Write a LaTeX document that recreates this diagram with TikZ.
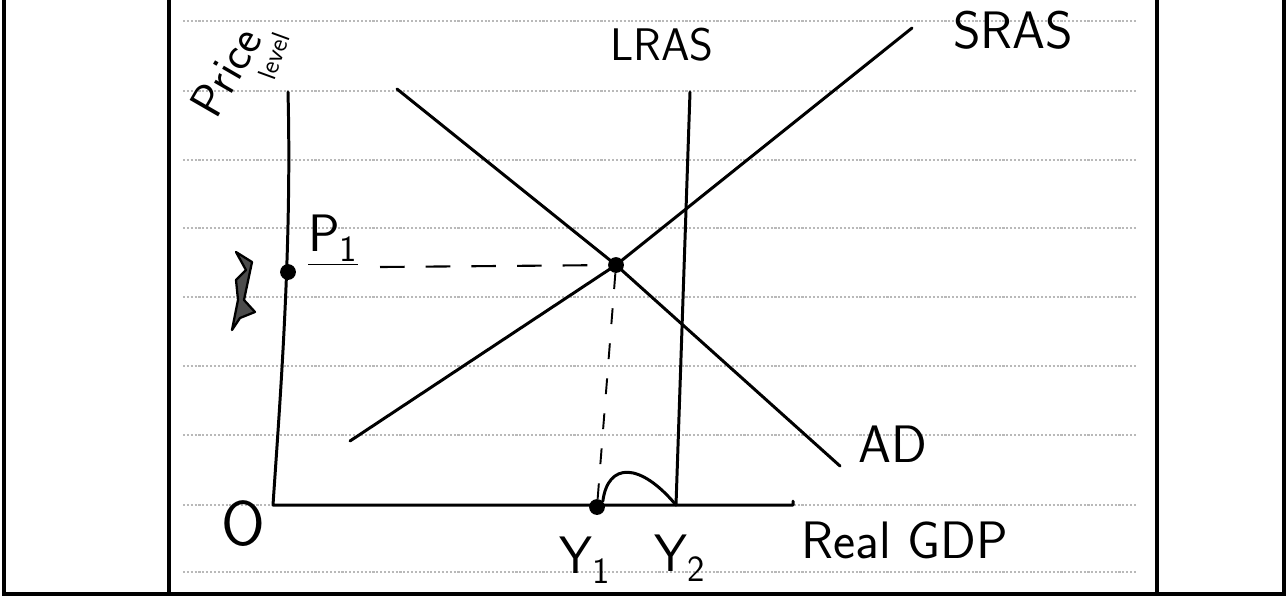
\documentclass[tikz,border=0pt]{standalone}
\usepackage{tikz}
\usetikzlibrary{positioning}

\begin{document}
\begin{tikzpicture}[
  x=0.02cm, y=-0.02cm,
  font=\sffamily\fontsize{30}{30}\selectfont,
  curve/.style={line width=1.7pt, line cap=round, line join=round},
  guide/.style={line width=1.2pt, dash pattern=on 14pt off 12pt},
  vguide/.style={line width=1.1pt, dash pattern=on 9pt off 11pt},
  dot/.style={circle, fill=black, inner sep=0pt, minimum size=9pt},
  rule/.style={gray!55, line width=1.2pt, densely dotted},
  frame/.style={line width=1.8pt},
  lbl/.style={inner sep=1pt},
]
  \useasboundingbox (0,0) rectangle (1287,596);

  % ruled paper and table frame
  \foreach \y in {21,91,160,228,297,366,435,505,572} {
    \draw[rule] (183,\y) -- (1137,\y);
  }
  \draw[frame] (4,0) -- (4,594) -- (1284,594) -- (1284,0);
  \draw[frame] (169,0) -- (169,594);
  \draw[frame] (1157,0) -- (1157,594);

  % axes
  \coordinate (ytop) at (288,92);
  \coordinate (origin) at (273,505);
  \coordinate (xend) at (793,505);
  \draw[curve] (ytop) .. controls (292,250) and (280,400) .. (origin)
    -- (xend) -- ++(0,-4);

  % curves
  \coordinate (eq) at (616,265);
  \coordinate (sraslo) at (350,441);
  \coordinate (srashi) at (912,28);
  \coordinate (adhi) at (397,89);
  \coordinate (adlo) at (840,466);
  \coordinate (lrastop) at (690,92);
  \coordinate (y2) at (676,505);
  \draw[curve] (sraslo) -- (eq) -- (srashi);
  \draw[curve] (adhi) -- (eq) -- (adlo);
  \draw[curve] (lrastop) -- (y2);

  % guides to the axes
  \node[dot] (p1dot) at (288,272) {};
  \node[dot] (eqdot) at (eq) {};
  \node[dot] (y1dot) at (597,507) {};
  \coordinate (dashstart) at (380,267);
  \draw[guide] (dashstart) -- (eqdot);
  \draw[vguide] (eqdot) -- (y1dot);
  \draw[curve] (y1dot.north east) .. controls (608,462) and (640,462) .. (y2);

  % crossed out mark
  \draw[curve, fill=black!70, line width=1.3pt]
    (236,252) -- (252,262) -- (244,300) -- (255,312) -- (240,318)
    -- (232,330) -- (238,300) -- (236,280) -- (246,270) -- cycle;

  % labels
  \node[lbl, rotate=60, font=\sffamily\fontsize{27}{27}\selectfont]
    (lbl-price) at (226,72) {Price};
  \node[lbl, rotate=70, font=\sffamily\fontsize{15}{15}\selectfont]
    (lbl-level) at (274,56) {level};
  \node[lbl] (lbl-p1) at (333,240) {\underline{P\textsubscript{1}}};
  \node[lbl, font=\sffamily\fontsize{36}{36}\selectfont] (lbl-o) at (243,524) {O};
  \node[lbl, font=\sffamily\fontsize{26}{26}\selectfont] (lbl-lras) at (662,45) {LRAS};
  \node[lbl] (lbl-sras) at (1013,30) {SRAS};
  \node[lbl] (lbl-ad) at (893,444) {AD};
  \node[lbl] (lbl-y1) at (585,560) {Y\textsubscript{1}};
  \node[lbl] (lbl-y2) at (680,558) {Y\textsubscript{2}};
  \node[lbl] (lbl-gdp) at (905,540) {Real GDP};
\end{tikzpicture}
\end{document}
